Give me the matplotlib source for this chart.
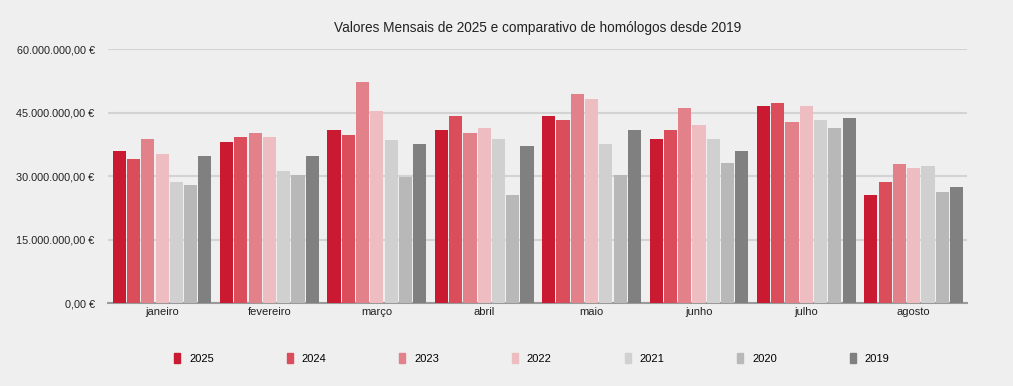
import numpy as np
import matplotlib.pyplot as plt
from matplotlib.patches import Rectangle
from matplotlib.ticker import FuncFormatter

plt.rcParams['font.family'] = ['Liberation Sans', 'DejaVu Sans']

# months and years
meses = ['janeiro', 'fevereiro', 'março', 'abril', 'maio', 'junho', 'julho', 'agosto']
anos = ['2025', '2024', '2023', '2022', '2021', '2020', '2019']

# monthly values in millions of euros, one list per year
v2025 = [35.9, 38.0, 40.9, 40.9, 44.1, 38.7, 46.5, 25.5]
v2024 = [34.0, 39.2, 39.7, 44.1, 43.2, 40.9, 47.2, 28.7]
v2023 = [38.7, 40.2, 52.2, 40.2, 49.4, 46.1, 42.8, 32.8]
v2022 = [35.2, 39.2, 45.4, 41.3, 48.2, 42.1, 46.5, 31.9]
v2021 = [28.7, 31.2, 38.5, 38.7, 37.6, 38.7, 43.2, 32.4]
v2020 = [27.9, 30.2, 29.7, 25.5, 30.2, 33.1, 41.3, 26.2]
v2019 = [34.7, 34.7, 37.6, 37.2, 40.9, 35.9, 43.7, 27.4]
series = [v2025, v2024, v2023, v2022, v2021, v2020, v2019]

cores = ['#c91a31', '#db4d5a', '#e3818a', '#eebdc1', '#d0d0d0', '#b8b8b8', '#808080']
bg = '#efefef'

def euro(v, pos):
    s = f"{v:,.2f}".replace(',', 'X').replace('.', ',').replace('X', '.')
    return s + ' €'

fig = plt.figure(figsize=(10.13, 3.86), dpi=100, facecolor=bg)
ax = fig.add_axes([0.107, 0.215, 0.848, 0.658])
ax.set_facecolor(bg)

x = np.arange(len(meses))
w = 0.133
for i, (vals, c) in enumerate(zip(series, cores)):
    ax.bar(x + (i - 3) * w, np.array(vals) * 1e6, width=w * 0.92, color=c, zorder=3)

ax.set_xlim(-0.5, len(meses) - 0.5)
ax.set_ylim(0, 60e6)
ax.set_yticks(np.arange(0, 60e6 + 1, 15e6))
ax.yaxis.set_major_formatter(FuncFormatter(euro))
ax.set_xticks(x)
ax.set_xticklabels(meses)
ax.tick_params(axis='both', length=0, labelsize=8, colors='#222222')
ax.tick_params(axis='y', pad=10, labelsize=7.8)
ax.tick_params(axis='x', pad=3)
ax.grid(axis='y', color='#d3d3d3', linewidth=1.5, zorder=0)
for s in ['top', 'right', 'left']:
    ax.spines[s].set_visible(False)
ax.spines['bottom'].set_color('#9a9a9a')
ax.spines['bottom'].set_linewidth(1.5)

ax.set_title('Valores Mensais de 2025 e comparativo de homólogos desde 2019',
             fontsize=9.8, color='#222222', pad=12)

handles = [Rectangle((0, 0), 1, 1, color=c) for c in cores]
fig.legend(handles, anos, loc='center', bbox_to_anchor=(0.525, 0.072), ncol=7,
           frameon=False, fontsize=8, handlelength=0.55, handleheight=1.0,
           handletextpad=0.8, columnspacing=6.55)

fig.savefig('out.png', dpi=100, facecolor=bg)
